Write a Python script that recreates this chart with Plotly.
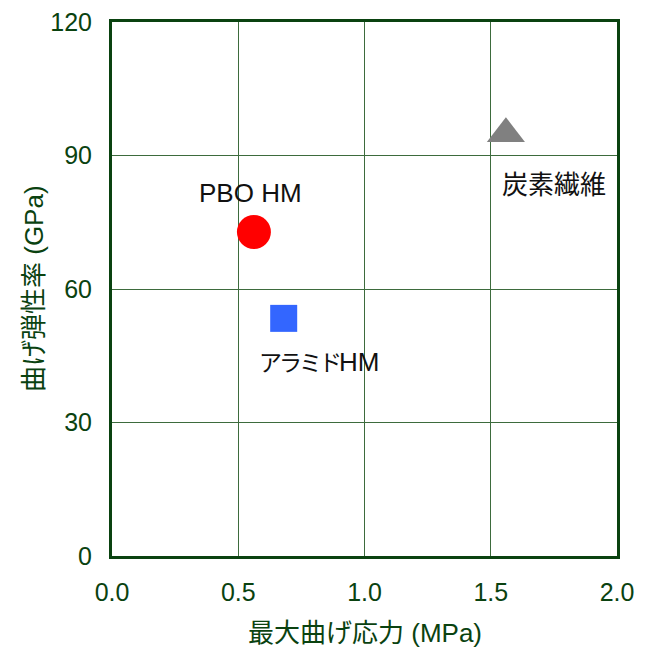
import plotly.graph_objects as go

materials = ["PBO HM", "アラミドHM", "炭素繊維"]
label_texts = ["PBO HM",
               "<span style='font-size:23px;letter-spacing:-3px'>アラミド</span>HM",
               "炭素繊維"]
max_bending_stress = [0.562, 0.680, 1.56]   # MPa
bending_modulus = [72.8, 53.4, 94.9]       # GPa
marker_symbols = ["circle", "square", "triangle-up"]
marker_colors = ["#ff0000", "#3366ff", "#808080"]
marker_sizes = [34, 27, 33]
label_shifts = [(-3, 39), (35, -44), (48, -51)]

x_ticks = [0.0, 0.5, 1.0, 1.5, 2.0]
x_tick_labels = ["0.0", "0.5", "1.0", "1.5", "2.0"]
y_ticks = [0, 30, 60, 90, 120]
x_title = "最大曲げ応力 (MPa)"
y_title = "曲げ弾性率 (GPa)"

GREEN = "#0a4210"
FONT = "Liberation Sans, Arial, Noto Sans CJK JP, sans-serif"

fig = go.Figure()
for name, x, y, sym, col, sz in zip(materials, max_bending_stress, bending_modulus,
                                     marker_symbols, marker_colors, marker_sizes):
    fig.add_trace(go.Scatter(x=[x], y=[y], mode="markers", name=name,
                             marker=dict(symbol=sym, color=col, size=sz, line=dict(width=0)),
                             showlegend=False))

for txt, x, y, (dx, dy) in zip(label_texts, max_bending_stress, bending_modulus, label_shifts):
    fig.add_annotation(x=x, y=y, text=txt, showarrow=False, xshift=dx, yshift=dy,
                       font=dict(size=26, color="#111111", family=FONT))

# axis titles
fig.add_annotation(xref="paper", yref="paper", x=0.5, y=0, text=x_title, showarrow=False,
                   yanchor="middle", xanchor="center", yshift=-77,
                   font=dict(size=26, color=GREEN, family=FONT))
fig.add_annotation(xref="paper", yref="paper", x=0, y=0.5, text=y_title, showarrow=False,
                   yanchor="middle", xanchor="center", xshift=-78, textangle=-90,
                   font=dict(size=26, color=GREEN, family=FONT))

axis_common = dict(showline=True, linecolor=GREEN, linewidth=3, mirror=True,
                   showgrid=True, gridcolor="#3d6b3d", gridwidth=1, zeroline=False,
                   automargin=False, ticklabeloverflow="allow",
                   ticks="", tickfont=dict(size=25, color=GREEN, family=FONT))

fig.update_xaxes(range=[0, 2], tickvals=x_ticks, ticktext=x_tick_labels,
                 ticklabelstandoff=12, **axis_common)
fig.update_yaxes(range=[0, 120], tickvals=y_ticks,
                 ticklabelstandoff=12, **axis_common)

fig.update_layout(width=650, height=650, margin=dict(l=104, r=41, t=14, b=102),
                  plot_bgcolor="white", paper_bgcolor="white")

fig.write_html("out.html")
